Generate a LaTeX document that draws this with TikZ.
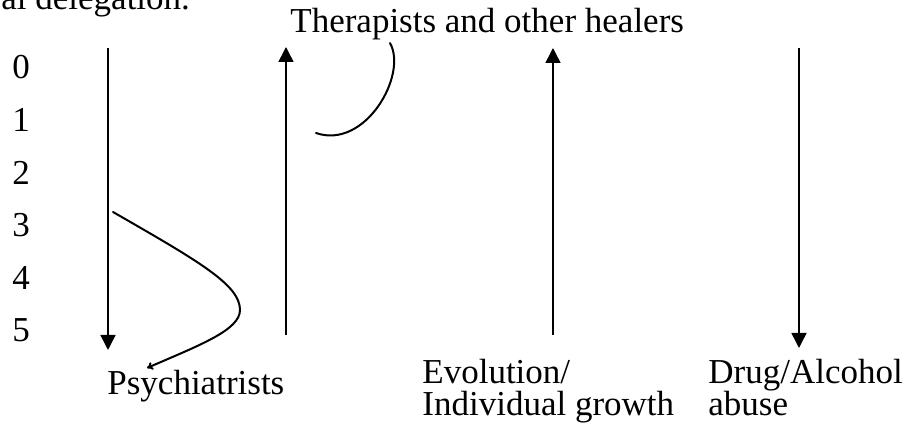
\documentclass[tikz,border=0pt]{standalone}
\usepackage{fontspec}
\setmainfont{Liberation Serif}
\usetikzlibrary{arrows.meta}

\begin{document}
\begin{tikzpicture}[x=0.5pt,y=-0.5pt,
  font=\fontsize{17.5}{16}\selectfont,
  txt/.style={anchor=base west,inner sep=0pt,align=left},
  axis/.style={line width=0.75pt,-{Triangle[width=7.5pt,length=7.5pt]}},
  stroke/.style={line width=1pt,line cap=round}]
  \useasboundingbox (0,0) rectangle (918,432);
  \clip (0,0) rectangle (918,432);

  \node[txt] (cut) at (1,10) {al delegation.};
  \node[txt] (heal) at (290,33) {Therapists and other healers};
  \foreach \d in {0,...,5}
    \node[txt] (n\d) at (12,79+52.6*\d) {\d};
  \node[txt] (psy) at (107,395) {Psychiatrists};
  % base of a two-line node is the baseline of its last line
  \node[txt] (evo) at (422,416) {Evolution/\\Individual growth};
  \node[txt] (drug) at (708,416) {Drug/Alcohol\\abuse};

  % ends of the four arrows
  \coordinate (a1) at (108,48);  \coordinate (b1) at (108,350);
  \coordinate (a2) at (286,47);  \coordinate (b2) at (286,335);
  \coordinate (a3) at (553,48);  \coordinate (b3) at (553,335);
  \coordinate (a4) at (799,48);  \coordinate (b4) at (799,348);
  \draw[axis] (a1) -- (b1);
  \draw[axis] (b2) -- (a2);
  \draw[axis] (b3) -- (a3);
  \draw[axis] (a4) -- (b4);

  % hand-drawn strokes
  \coordinate (s1) at (390,43); \coordinate (e1) at (316,133);
  \draw[stroke] (s1) .. controls (408,75) and (365,150) .. (e1);
  \coordinate (s2) at (113,212); \coordinate (m2) at (240,310); \coordinate (e2) at (147,368);
  \draw[stroke,-{To[length=3pt,width=4pt]}] (s2) .. controls (200,262) and (240,285) .. (m2)
    .. controls (240,330) and (200,345) .. (e2);
\end{tikzpicture}
\end{document}
